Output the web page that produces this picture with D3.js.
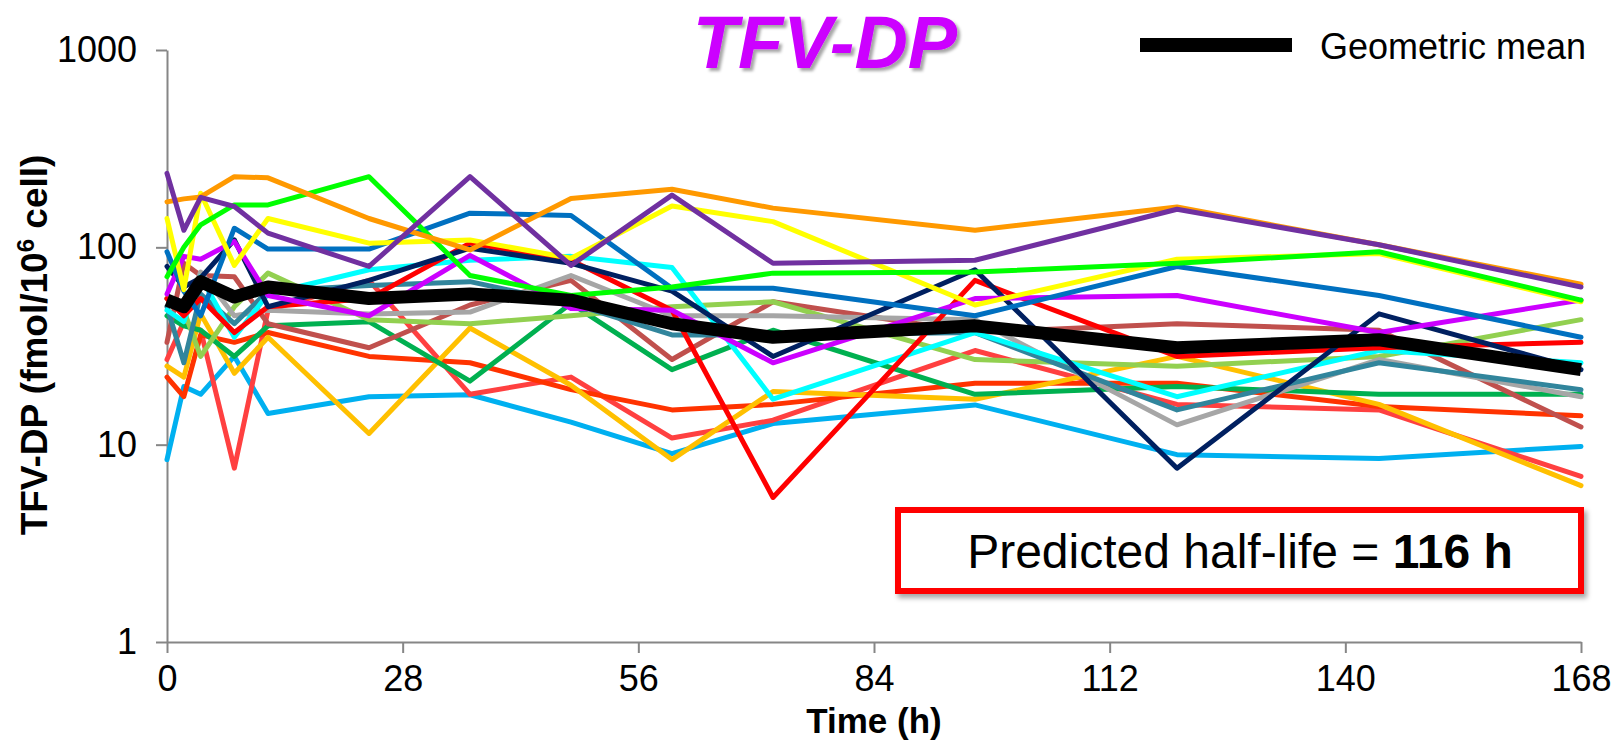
<!DOCTYPE html>
<html>
<head>
<meta charset="utf-8">
<script src="https://cdn.jsdelivr.net/npm/d3@7"></script>
<style>
  html, body { margin: 0; padding: 0; background: #fff; }
  svg { display: block; font-family: "Liberation Sans", Arial, sans-serif; }
</style>
</head>
<body>
<svg id="chart" width="1614" height="742"></svg>
<script>
// ---- data ----
const times = [0, 2, 4, 8, 12, 24, 36, 48, 60, 72, 96, 120, 144, 168];
const xTicks = [0, 28, 56, 84, 112, 140, 168];
const yTicks = [1, 10, 100, 1000];

const orangeVals    = [170, 176, 180, 228, 225, 140, 97, 177, 197, 158, 122, 160, 103, 65];
const purpleVals    = [237, 122, 179, 161, 118, 80, 228, 81, 184, 83, 86, 156, 103, 63];
const yellowVals    = [140, 61, 188, 81, 140, 105, 109, 88, 162, 135, 51, 87, 93, 53];
const limeVals      = [71, 100, 130, 164, 164, 228, 72, 57, 63, 74, 75, 83, 95, 54];
const blueVals      = [95, 60, 45, 125, 98, 98, 149, 145, 62, 62, 45, 80, 57, 35];
const magentaVals   = [58, 90, 87, 107, 57, 45, 91, 49, 48, 26, 55, 57, 37, 54];
const navyVals      = [80, 63, 70, 109, 50, 68, 99, 83, 60, 28, 77, 7.6, 46, 24];
const redVals       = [55, 45, 55, 37, 50, 55, 105, 86, 48, 5.4, 68, 28, 31, 33];
const cyanVals      = [48, 42, 71, 35, 58, 77, 86, 90, 79, 17, 37, 17.5, 30, 26];
const tealVals      = [50, 26, 58, 41, 60, 64, 67, 52, 36, 36, 37, 15, 26, 19];
const grayVals      = [55, 45, 75, 45, 48, 46, 47, 72, 45, 45, 43, 12.6, 27, 17.5];
const lightGreenVals= [55, 48, 28, 50, 74, 43, 41, 45, 50, 53, 27, 25, 28, 43];
const brownVals     = [33, 83, 72, 71, 41, 31, 51, 68, 27, 53, 37, 41, 38, 12.3];
const greenVals     = [45, 40, 38, 28, 40, 42, 21, 52, 24, 38, 18, 19.7, 18, 18];
const goldVals      = [25, 22, 46, 23, 35, 11.4, 39, 20, 8.4, 18.6, 17, 28, 16, 6.2];
const redOrangeVals = [22, 17.5, 36, 33, 37, 28, 26, 19, 15, 16, 20.5, 20.5, 15.6, 14];
const coralVals     = [27, 42, 38, 7.6, 48, 68, 18, 22, 10.8, 13.3, 30, 16, 15, 6.9];
const lightBlueVals = [8.4, 19.7, 18, 28, 14.4, 17.5, 17.9, 13, 9, 12.8, 15.9, 8.9, 8.5, 9.8];
const geoMeanVals   = [54, 50, 67, 56, 63, 55, 58, 54, 41, 35, 40, 31, 34, 24];

const subjectSeries = [
  { vals: lightBlueVals,  color: "#00B0F0" },
  { vals: coralVals,      color: "#FF4040" },
  { vals: redOrangeVals,  color: "#FF3300" },
  { vals: goldVals,       color: "#FFC000" },
  { vals: greenVals,      color: "#00B050" },
  { vals: brownVals,      color: "#C0504D" },
  { vals: lightGreenVals, color: "#92D050" },
  { vals: grayVals,       color: "#A6A6A6" },
  { vals: tealVals,       color: "#31859C" },
  { vals: cyanVals,       color: "#00FFFF" },
  { vals: redVals,        color: "#FF0000" },
  { vals: navyVals,       color: "#002060" },
  { vals: magentaVals,    color: "#CC00FF" },
  { vals: blueVals,       color: "#0070C0" },
  { vals: yellowVals,     color: "#FFFF00" },
  { vals: limeVals,       color: "#00FF00" },
  { vals: orangeVals,     color: "#FF9900" },
  { vals: purpleVals,     color: "#7030A0" }
];

// ---- layout ----
const svg = d3.select("#chart");
const L = 167, R = 1581, T = 50, B = 642;
const x = d3.scaleLinear().domain([0, 168]).range([L, R]);
const y = d3.scaleLog().domain([1, 1000]).range([B, T]);
const axisColor = "#868686";

const defs = svg.append("defs");
const f1 = defs.append("filter").attr("id", "shadow").attr("x", "-10%").attr("y", "-10%").attr("width", "130%").attr("height", "140%");
f1.append("feDropShadow").attr("dx", 3).attr("dy", 4).attr("stdDeviation", 2.5).attr("flood-color", "#000").attr("flood-opacity", 0.35);
const f2 = defs.append("filter").attr("id", "tshadow").attr("x", "-10%").attr("y", "-10%").attr("width", "130%").attr("height", "140%");
f2.append("feDropShadow").attr("dx", 3).attr("dy", 3).attr("stdDeviation", 1.5).attr("flood-color", "#000").attr("flood-opacity", 0.35);

// axes
const xAxis = d3.axisBottom(x).tickValues(xTicks).tickSize(11).tickSizeOuter(0).tickPadding(12).tickFormat(d3.format("d"));
const gx = svg.append("g").attr("transform", `translate(0,${B})`).call(xAxis);
gx.select(".domain").attr("stroke", axisColor).attr("stroke-width", 2);
gx.selectAll(".tick line").attr("stroke", axisColor).attr("stroke-width", 2);
gx.selectAll(".tick text").attr("fill", "#000").attr("font-size", 36).attr("font-family", "Liberation Sans, Arial, sans-serif");

const yAxis = d3.axisLeft(y).tickValues(yTicks).tickSize(11).tickSizeOuter(0).tickPadding(19).tickFormat(d3.format("d"));
const gy = svg.append("g").attr("transform", `translate(${L},0)`).call(yAxis);
gy.select(".domain").attr("stroke", axisColor).attr("stroke-width", 2);
gy.selectAll(".tick line").attr("stroke", axisColor).attr("stroke-width", 2);
gy.selectAll(".tick text").attr("fill", "#000").attr("font-size", 36).attr("font-family", "Liberation Sans, Arial, sans-serif");

// lines
const line = d3.line().x((d, i) => x(times[i])).y(d => y(d));
svg.append("g").selectAll("path.subj").data(subjectSeries).join("path")
  .attr("class", "subj")
  .attr("d", d => line(d.vals))
  .attr("fill", "none")
  .attr("stroke", d => d.color)
  .attr("stroke-width", 5)
  .attr("stroke-linejoin", "round")
  .attr("stroke-linecap", "round");

svg.append("path")
  .attr("d", line(geoMeanVals))
  .attr("fill", "none")
  .attr("stroke", "#000")
  .attr("stroke-width", 13)
  .attr("stroke-linejoin", "round");

// title
svg.append("text")
  .attr("x", 825).attr("y", 68)
  .attr("text-anchor", "middle")
  .attr("font-size", 74).attr("font-weight", "bold").attr("font-style", "italic")
  .attr("fill", "#CC00FF")
  .attr("filter", "url(#tshadow)")
  .text("TFV-DP");

// legend
svg.append("line").attr("x1", 1140).attr("x2", 1292).attr("y1", 45).attr("y2", 45)
  .attr("stroke", "#000").attr("stroke-width", 14);
svg.append("text").attr("x", 1320).attr("y", 59).attr("font-size", 36).attr("fill", "#000").text("Geometric mean");

// axis titles
svg.append("text")
  .attr("x", 874).attr("y", 733)
  .attr("text-anchor", "middle")
  .attr("font-size", 35).attr("font-weight", "bold")
  .text("Time (h)");

const yt = svg.append("text")
  .attr("transform", `translate(47,${345}) rotate(-90)`)
  .attr("text-anchor", "middle")
  .attr("font-size", 37).attr("font-weight", "bold");
yt.append("tspan").text("TFV-DP (fmol/10");
yt.append("tspan").attr("font-size", 24).attr("dy", -13).text("6");
yt.append("tspan").attr("dy", 13).text(" cell)");

// half-life box
svg.append("rect")
  .attr("x", 898).attr("y", 510).attr("width", 683).attr("height", 81)
  .attr("fill", "#fff").attr("stroke", "#FF0000").attr("stroke-width", 6)
  .attr("filter", "url(#shadow)");
const bt = svg.append("text")
  .attr("x", 1240).attr("y", 568)
  .attr("text-anchor", "middle")
  .attr("font-size", 48).attr("fill", "#000");
bt.append("tspan").text("Predicted half-life = ");
bt.append("tspan").attr("font-weight", "bold").text("116 h");
</script>
</body>
</html>
